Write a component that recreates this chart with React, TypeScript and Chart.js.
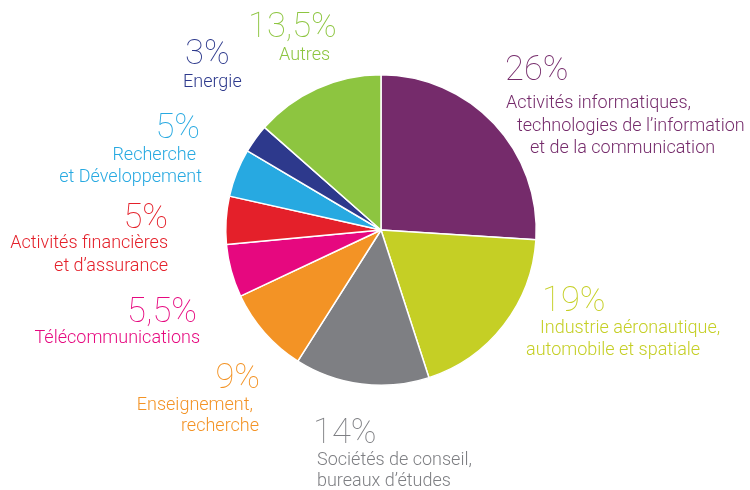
import React, { useEffect, useRef } from "react";
import { Chart, registerables } from "chart.js";

Chart.register(...registerables);

const categories = [
  "Activités informatiques, technologies de l’information et de la communication",
  "Industrie aéronautique, automobile et spatiale",
  "Sociétés de conseil, bureaux d’études",
  "Enseignement, recherche",
  "Télécommunications",
  "Activités financières et d’assurance",
  "Recherche et Développement",
  "Energie",
  "Autres",
];
const shares = [26, 19, 14, 9, 5.5, 5, 5, 3, 13.5];
const pctLabels = ["26%", "19%", "14%", "9%", "5,5%", "5%", "5%", "3%", "13,5%"];
const labelLines = [
  ["Activités informatiques,", "technologies de l’information", "et de la communication"],
  ["Industrie aéronautique,", "automobile et spatiale"],
  ["Sociétés de conseil,", "bureaux d’études"],
  ["Enseignement,", "recherche"],
  ["Télécommunications"],
  ["Activités financières", "et d’assurance"],
  ["Recherche", "et Développement"],
  ["Energie"],
  ["Autres"],
];
const colors = [
  "#752B6B",
  "#C5CF25",
  "#7E7F83",
  "#F39325",
  "#E6087F",
  "#E4202A",
  "#27A9E1",
  "#2D398C",
  "#8DC540",
];

// label layout relative to pie centre
type Layout = { align: CanvasTextAlign; pct: [number, number]; lines: [number, number][] };
const layout: Layout[] = [
  { align: "left", pct: [124, -150], lines: [[125, -122], [136, -99], [149, -77]] },
  { align: "left", pct: [161, 81], lines: [[159, 103], [145, 125]] },
  { align: "left", pct: [-68, 213], lines: [[-64, 235], [-64, 256]] },
  { align: "right", pct: [-121, 158], lines: [[-128, 180], [-122, 201]] },
  { align: "right", pct: [-184, 92], lines: [[-181, 113]] },
  { align: "right", pct: [-213, -2], lines: [[-213, 18], [-213, 41]] },
  { align: "right", pct: [-181, -92], lines: [[-185, -70], [-179, -48]] },
  { align: "left", pct: [-196, -166], lines: [[-198, -143]] },
  { align: "left", pct: [-133, -193], lines: [[-102, -170]] },
];

const labelPlugin = {
  id: "sliceLabels",
  afterDraw(chart: any) {
    const meta = chart.getDatasetMeta(0);
    const arc = meta.data[0];
    if (!arc) return;
    const cx = arc.x;
    const cy = arc.y;
    const ctx = chart.ctx;
    ctx.save();
    ctx.textBaseline = "alphabetic";
    layout.forEach((l, i) => {
      const col = colors[i];
      ctx.fillStyle = col;
      ctx.textAlign = l.align;
      ctx.font = '100 34.5px "Roboto", "Liberation Sans", sans-serif';
      ctx.fillText(pctLabels[i], cx + l.pct[0], cy + l.pct[1]);
      ctx.font = '300 18px "Roboto", "Liberation Sans", Arial, sans-serif';
      labelLines[i].forEach((t, j) => {
        const p = l.lines[j];
        ctx.fillText(t, cx + p[0], cy + p[1]);
      });
    });
    ctx.restore();
  },
};

export default function App() {
  const ref = useRef<HTMLCanvasElement | null>(null);
  useEffect(() => {
    if (!ref.current) return;
    const chart = new Chart(ref.current, {
      type: "pie",
      data: {
        labels: categories,
        datasets: [
          {
            data: shares,
            backgroundColor: colors,
            borderColor: "#ffffff",
            borderWidth: 1.5,
            hoverOffset: 0,
            offset: 0,
          },
        ],
      },
      options: {
        responsive: false,
        animation: false,
        layout: { padding: { top: 74, bottom: 104, left: 225, right: 213 } },
        plugins: {
          legend: { display: false },
          tooltip: { enabled: false },
        },
      },
      plugins: [labelPlugin],
    });
    return () => chart.destroy();
  }, []);
  return (
    <div style={{ position: "fixed", left: 0, top: 0, width: 750, height: 490, background: "#fff" }}>
      <canvas ref={ref} width={750} height={490} style={{ width: 750, height: 490 }} />
    </div>
  );
}
